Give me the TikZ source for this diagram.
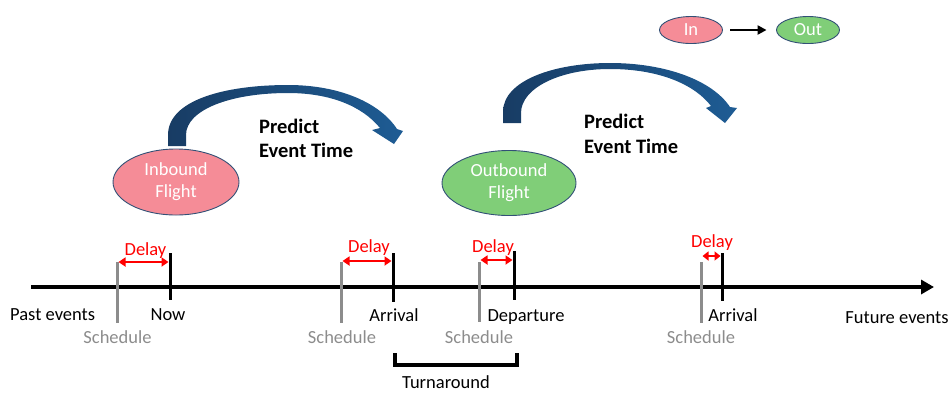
\documentclass[tikz,border=0pt]{standalone}
\usepackage{fontspec}
\setmainfont{Carlito}
\usetikzlibrary{arrows.meta,shapes.geometric}

\definecolor{inpink}{RGB}{245,140,151}
\definecolor{outgreen}{RGB}{128,206,120}
\definecolor{rim}{RGB}{50,80,118}
\definecolor{schedgray}{RGB}{140,140,140}
\definecolor{arcdark}{RGB}{24,60,100}
\definecolor{arclight}{RGB}{30,92,148}
\definecolor{delayred}{RGB}{255,0,0}

\begin{document}
\begin{tikzpicture}[x=1pt,y=-1pt,
  lbl/.style={font=\fontsize{18.5}{22}\selectfont, inner sep=0pt, anchor=base},
  graylbl/.style={lbl, text=schedgray},
  redlbl/.style={lbl, text=delayred},
  boldlbl/.style={font=\fontsize{20.5}{24}\selectfont\bfseries, inner sep=0pt, anchor=base west},
  flight/.style={ellipse, draw=rim, line width=0.9pt, inner sep=0pt, text=white,
    align=center, font=\fontsize{18.5}{22}\selectfont},
  legend/.style={flight, minimum width=63pt, minimum height=27pt},
  schedtick/.style={draw=schedgray, line width=3pt},
  eventtick/.style={draw=black, line width=3pt},
  delayarrow/.style={draw=delayred, line width=2.5pt,
    {Triangle[length=7pt,width=9pt]}-{Triangle[length=7pt,width=9pt]}, shorten <=1.5pt, shorten >=1.5pt},
  arcfill/.style={left color=arcdark, right color=arclight, draw=none}
]
\useasboundingbox (0,0) rectangle (952,392);

% time axis
\coordinate (axisL) at (31,287);
\coordinate (axisR) at (934,287);
\draw[line width=4.5pt, -{Triangle[length=13pt,width=14pt]}] (axisL) -- (axisR);

% tick end points
\coordinate (s1t) at (117,262); \coordinate (s1b) at (117,323);
\coordinate (e1t) at (170,253); \coordinate (e1b) at (170,300);
\coordinate (s2t) at (341,262); \coordinate (s2b) at (341,323);
\coordinate (e2t) at (393,253); \coordinate (e2b) at (393,302);
\coordinate (s3t) at (479,262); \coordinate (s3b) at (479,322);
\coordinate (e3t) at (514,251); \coordinate (e3b) at (514,300);
\coordinate (s4t) at (701,262); \coordinate (s4b) at (701,323);
\coordinate (e4t) at (722,253); \coordinate (e4b) at (722,301);

\draw[schedtick] (s1t) -- (s1b);
\draw[eventtick] (e1t) -- (e1b);
\draw[schedtick] (s2t) -- (s2b);
\draw[eventtick] (e2t) -- (e2b);
\draw[schedtick] (s3t) -- (s3b);
\draw[eventtick] (e3t) -- (e3b);
\draw[schedtick] (s4t) -- (s4b);
\draw[eventtick] (e4t) -- (e4b);

% delay spans
\coordinate (d1a) at (117,262); \coordinate (d1b) at (170,262);
\coordinate (d2a) at (341,261); \coordinate (d2b) at (393,261);
\coordinate (d3a) at (479,260); \coordinate (d3b) at (514,260);
\coordinate (d4a) at (701,256); \coordinate (d4b) at (722,256);
\draw[delayarrow] (d1a) -- (d1b);
\draw[delayarrow] (d2a) -- (d2b);
\draw[delayarrow] (d3a) -- (d3b);
\draw[delayarrow, {Triangle[length=6pt,width=9pt]}-{Triangle[length=6pt,width=9pt]}] (d4a) -- (d4b);

\node[redlbl] (delay1) at (145.5,255) {Delay};
\node[redlbl] (delay2) at (369,252) {Delay};
\node[redlbl] (delay3) at (493,252) {Delay};
\node[redlbl] (delay4) at (712,247) {Delay};

% axis labels
\node[lbl, anchor=base west] (past) at (10,320) {Past events};
\node[lbl] (now) at (168,320) {Now};
\node[graylbl] (sched1) at (117.5,343) {Schedule};
\node[lbl] (arr1) at (394,321) {Arrival};
\node[graylbl] (sched2) at (342,343) {Schedule};
\node[lbl] (dep) at (526,321) {Departure};
\node[graylbl] (sched3) at (479,343) {Schedule};
\node[lbl] (arr2) at (733,321) {Arrival};
\node[graylbl] (sched4) at (701,343) {Schedule};
\node[lbl] (future) at (897,323) {Future events};

% turnaround bracket
\coordinate (brL) at (395,353);
\coordinate (brR) at (517,353);
\draw[line width=4pt] (brL) -- (395,365) -- (517,365) -- (brR);
\node[lbl] (turn) at (446,388) {Turnaround};

% flights
\node[flight, fill=inpink, minimum width=126pt, minimum height=66pt] (inbound) at (176,182) {Inbound\\Flight};
\node[flight, fill=outgreen, minimum width=134pt, minimum height=65pt] (outbound) at (509,183) {Outbound\\Flight};

% curved prediction arrows
\shade[arcfill] (168,146) -- (168,135) .. controls (168,100) and (225,85) .. (288,85)
  .. controls (340,85) and (380,103) .. (397,129) -- (403,131) -- (394,144) -- (372,130) -- (380,128)
  .. controls (362,106) and (330,93) .. (288,93)
  .. controls (230,93) and (186,110) .. (186,135) -- (186,146) -- cycle;
\shade[arcfill] (503,123) -- (503,112) .. controls (503,80) and (555,63) .. (610,63)
  .. controls (665,63) and (712,80) .. (730,107) -- (737,108) -- (725,123) -- (706,108) -- (711,106)
  .. controls (695,85) and (660,69) .. (610,69)
  .. controls (560,69) and (521,88) .. (521,113) -- (521,123) -- cycle;

\node[boldlbl] (predA1) at (259,133) {Predict};
\node[boldlbl] (predA2) at (259,157) {Event Time};
\node[boldlbl] (predB1) at (584,128) {Predict};
\node[boldlbl] (predB2) at (584,153) {Event Time};

% legend
\node[legend, fill=inpink] (legIn) at (691,30) {In};
\node[legend, fill=outgreen] (legOut) at (808,30) {Out};
\draw[line width=2.5pt, -{Triangle[length=9pt,width=9pt]}, shorten <=7.5pt, shorten >=9.5pt] (legIn) -- (legOut);
\end{tikzpicture}
\end{document}
